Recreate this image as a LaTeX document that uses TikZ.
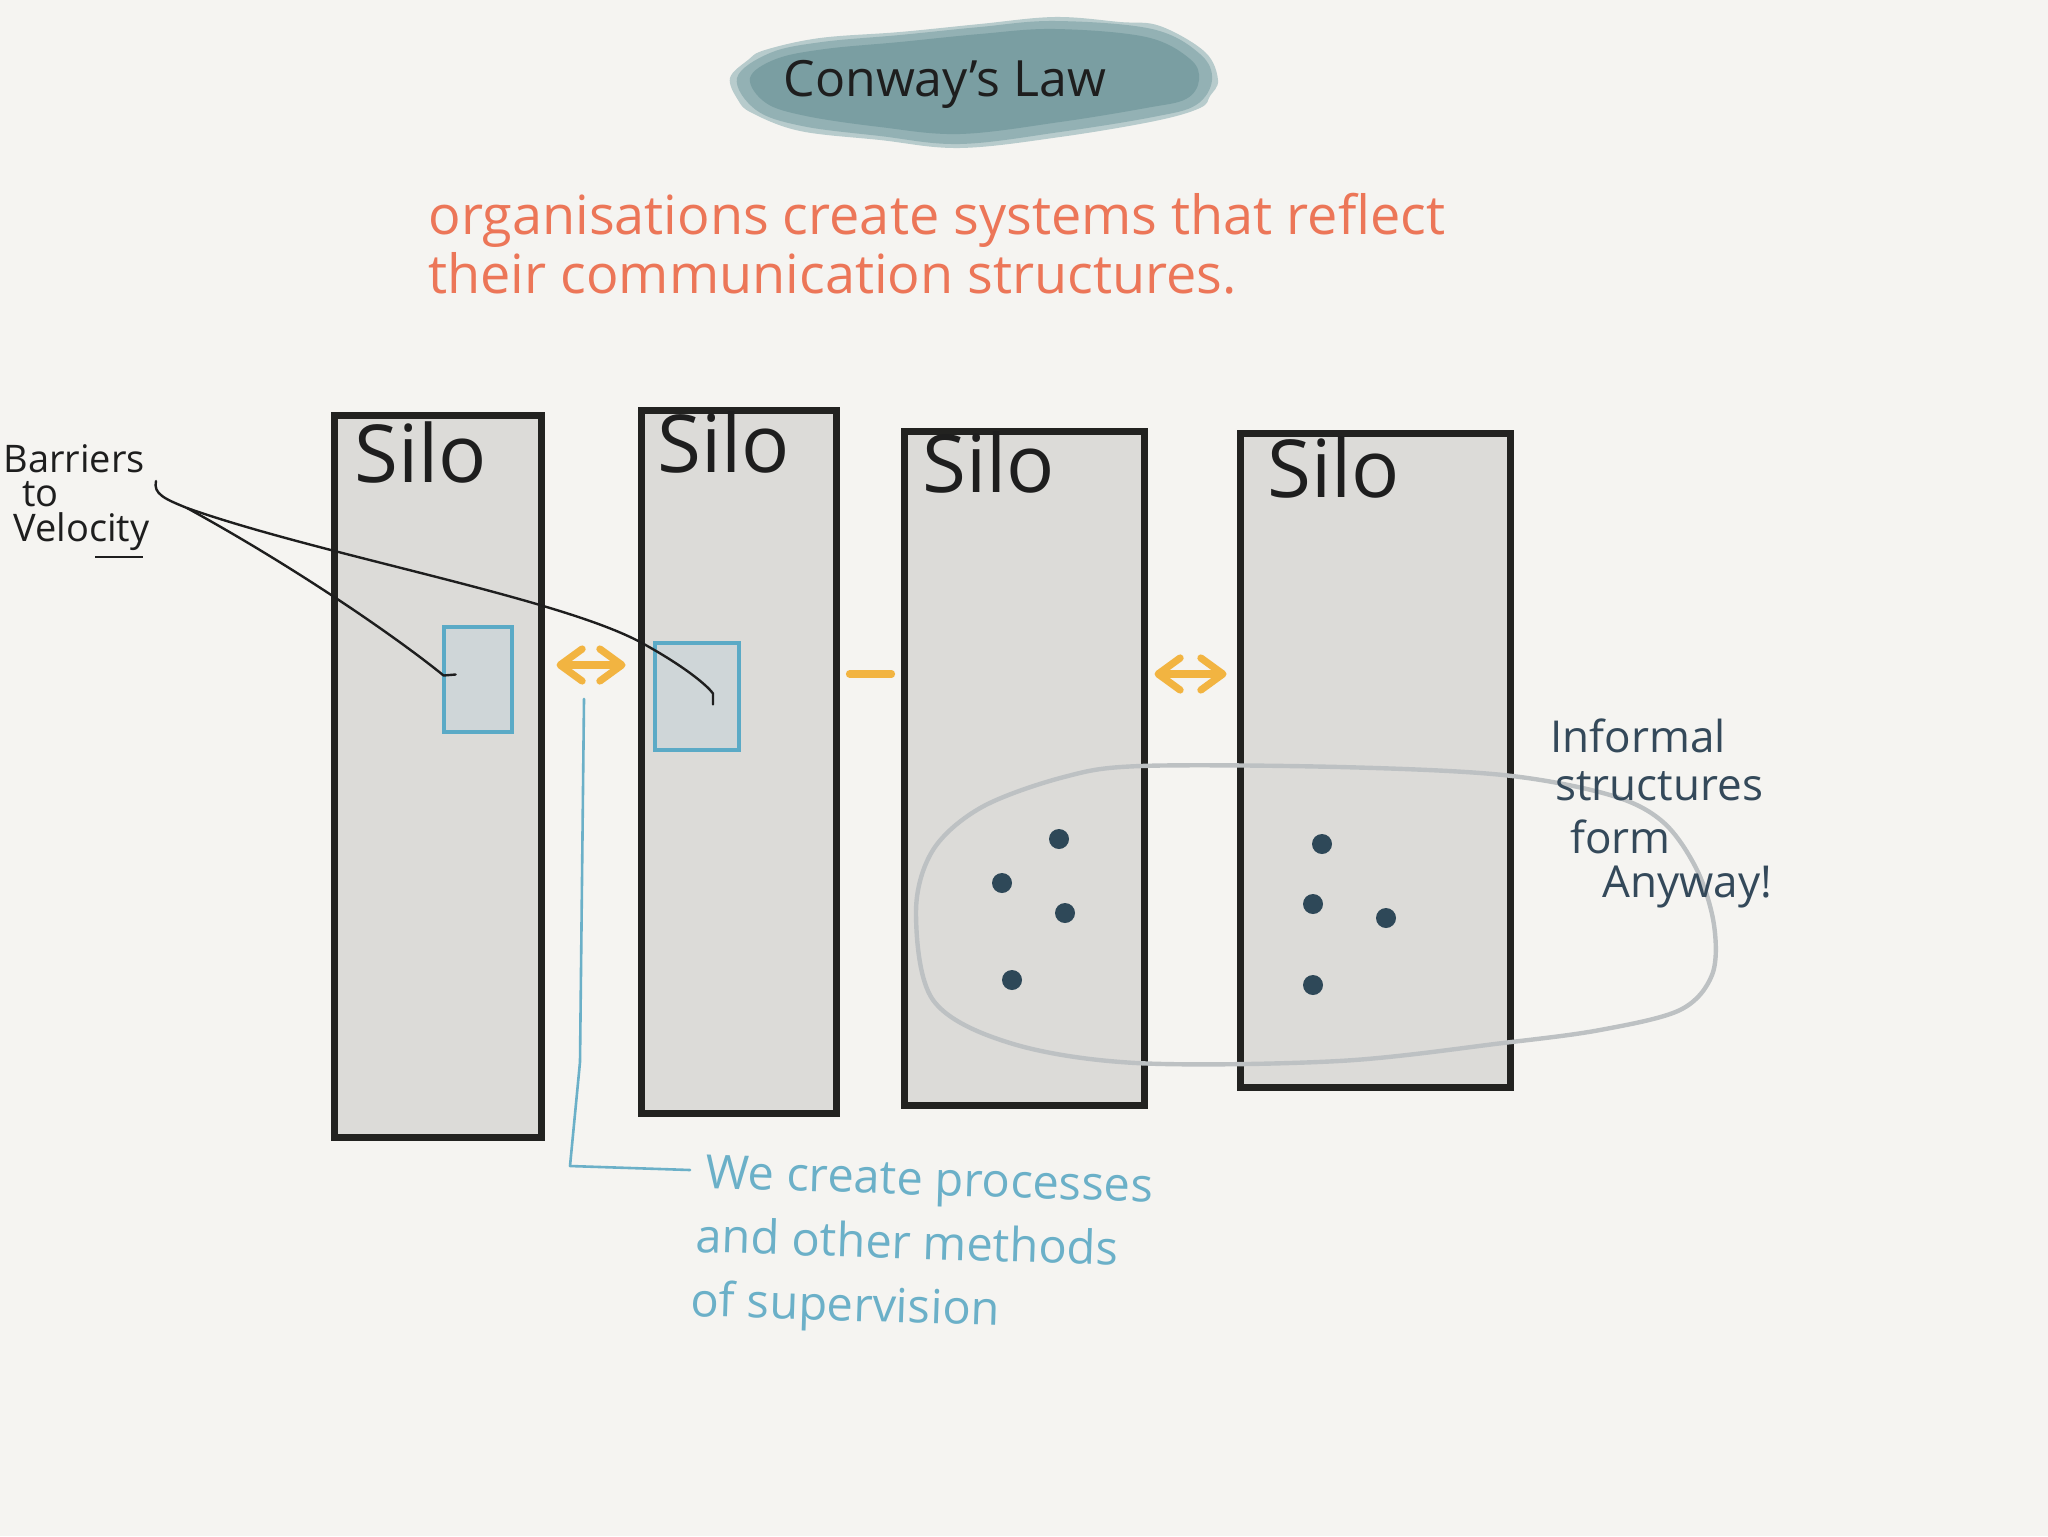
\documentclass[tikz,border=0pt]{standalone}
\usepackage{fontspec}
\setmainfont{Open Sans}
\usetikzlibrary{arrows.meta,calc}
\definecolor{bg}{HTML}{F5F4F1}
\definecolor{silofill}{HTML}{DCDBD8}
\definecolor{siloline}{HTML}{222220}
\definecolor{boxblue}{HTML}{5BAAC6}
\definecolor{boxfill}{HTML}{CFD6D8}
\definecolor{arrowor}{HTML}{F2B441}
\definecolor{subor}{HTML}{EC7658}
\definecolor{noteblue}{HTML}{6BB0C8}
\definecolor{slate}{HTML}{34495A}
\definecolor{dotcol}{HTML}{2E4858}
\definecolor{titlebg}{HTML}{7A9EA2}
\definecolor{titlemid}{HTML}{93B1B4}
\definecolor{titlesoft}{HTML}{B7CBCC}
\definecolor{ellgray}{HTML}{BDC1C3}
\definecolor{ink}{HTML}{1E1E1E}
\tikzset{
  silo/.style={draw=siloline, fill=silofill, line width=3.5pt, inner sep=0pt, rectangle},
  silolabel/.style={anchor=base west, inner sep=0pt, text=ink, font=\fontsize{40pt}{44pt}\selectfont},
  bluebox/.style={draw=boxblue, fill=boxfill, line width=2.4pt, inner sep=0pt, rectangle},
  orarrow/.style={draw=arrowor, line width=3.6pt, line cap=round,
     {Straight Barb[length=11pt,width=16pt,round]}-{Straight Barb[length=11pt,width=16pt,round]}},
  orline/.style={draw=arrowor, line width=3.6pt, line cap=round},
  blackcurve/.style={draw=ink, line width=1.2pt, line cap=round, line join=round},
  noteline/.style={draw=noteblue, line width=1.3pt, line cap=round, line join=round},
  subtext/.style={anchor=base west, inner sep=0pt, text=subor, font=\fontsize{27pt}{30pt}\selectfont},
  notetext/.style={anchor=base west, inner sep=0pt, text=noteblue, font=\fontsize{23.5pt}{27pt}\selectfont},
  infotext/.style={anchor=base west, inner sep=0pt, text=slate, font=\fontsize{22pt}{26pt}\selectfont},
  bartext/.style={anchor=base west, inner sep=0pt, text=ink, font=\fontsize{19pt}{22pt}\selectfont},
  dot/.style={circle, fill=dotcol, minimum size=10pt, inner sep=0pt},
  blob/.style={ellgray, line width=2.2pt}
}
\begin{document}
\begin{tikzpicture}[x=0.5pt,y=-0.5pt]
\useasboundingbox (0,0) rectangle (2048,1536);
\fill[bg] (0,0) rectangle (2048,1536);

% title blob (soft edged wash)
\fill[titlesoft] plot[smooth cycle, tension=0.6] coordinates {
 (730,78) (748,60) (765,50) (820,38) (900,32) (980,24) (1055,17) (1120,22) (1160,26) (1205,52) (1218,80)
 (1210,96) (1200,108) (1155,121) (1060,137) (960,148) (880,140) (800,131) (752,113) (738,100)};
\fill[titlemid] plot[smooth cycle, tension=0.6] coordinates {
 (737,78) (770,53) (822,42) (900,35) (980,27) (1055,21) (1152,29) (1200,54) (1212,80)
 (1196,105) (1153,117) (1060,132) (960,144) (880,136) (802,126) (756,110)};
\fill[titlebg] plot[smooth cycle, tension=0.6] coordinates {
 (750,78) (776,59) (825,49) (900,42) (980,34) (1055,29) (1146,37) (1190,59) (1199,80)
 (1186,99) (1146,108) (1060,122) (960,134) (880,127) (806,116) (766,103)};
\node[anchor=base, inner sep=0pt, text=ink, font=\fontsize{25pt}{28pt}\selectfont] (title) at (945,97) {Conway's Law};

% subtitle
\node[subtext] (sub1) at (428,234) {organisations create systems that reflect};
\node[subtext] (sub2) at (428,293) {their communication structures.};

% silos
\node[silo, minimum width=103.5pt, minimum height=361pt] (s1) at (437.5,776) {};
\node[silo, minimum width=97.5pt, minimum height=351.5pt] (s2) at (738.5,761.5) {};
\node[silo, minimum width=120pt, minimum height=337pt] (s3) at (1024,768) {};
\node[silo, minimum width=135pt, minimum height=327pt] (s4) at (1375,760) {};
\node[silolabel] (l1) at (354,482) {Silo};
\node[silolabel] (l2) at (657,472) {Silo};
\node[silolabel] (l3) at (922,492) {Silo};
\node[silolabel] (l4) at (1267,497) {Silo};

% blue boxes
\node[bluebox, minimum width=34pt, minimum height=52.5pt] (b1) at (478,679.5) {};
\node[bluebox, minimum width=42pt, minimum height=53.5pt] (b2) at (697,696.5) {};

% orange arrows
\coordinate (m1) at (0,665);
\coordinate (m2) at (0,674);
\draw[orarrow] ($(s1.east |- m1)+(12,0)$) -- ($(s2.west |- m1)+(-12,0)$);
\draw[orline] ($(s2.east |- m2)+(10,0)$) -- ($(s3.west |- m2)+(-9,0)$);
\draw[orarrow] ($(s3.east |- m2)+(7,0)$) -- ($(s4.west |- m2)+(-10,0)$);

% informal structures ring
\draw[blob] plot[smooth cycle, tension=0.55] coordinates {
 (916,912) (933,850) (982,807) (1064,777) (1141,766) (1339,767) (1503,775) (1610,795)
 (1663,822) (1697,870) (1714,925) (1712,975) (1680,1010) (1600,1030) (1503,1043)
 (1339,1061) (1136,1063) (1010,1043) (933,1000)};

% dots
\node[dot] (d1) at (1059,839) {};
\node[dot] (d2) at (1002,883) {};
\node[dot] (d3) at (1065,913) {};
\node[dot] (d4) at (1012,980) {};
\node[dot] (d5) at (1322,844) {};
\node[dot] (d6) at (1313,904) {};
\node[dot] (d7) at (1386,918) {};
\node[dot] (d8) at (1313,985) {};

% barriers label
\node[bartext] (bar1) at (3,472) {Barriers};
\node[bartext] (bar2) at (22,506) {to};
\node[bartext] (bar3) at (13,541) {Velocity};
\draw[ink, line width=1.2pt] (95,557) -- (143,557);

% connectors from label to boxes
\coordinate (bvdot) at (156,481);
\coordinate (bvsplit) at (187,508);
\draw[blackcurve] (bvdot) .. controls (153,494) and (165,499) .. (bvsplit)
   .. controls (300,570) and (400,640) .. ($(b1.west)+(2,-4)$) -- ($(b1.west)+(14,-5)$);
\draw[blackcurve] (bvsplit) .. controls (320,555) and (560,598) .. (642,643)
   .. controls (682,665) and (706,684) .. ($(b2.center)+(16,-3)$) -- ($(b2.center)+(16,8)$);

% note connector
\coordinate (notetop) at (584,699);
\coordinate (notebend1) at (580,1062);
\coordinate (notecorner) at (570,1166);
\coordinate (noteend) at (690,1170);
\draw[noteline] (notetop) -- (notebend1) -- (notecorner) -- (noteend);
\node[notetext, rotate=-1.8] (n1) at (705,1188) {We create processes};
\node[notetext, rotate=-1.8] (n2) at (695,1252) {and other methods};
\node[notetext, rotate=-1.8] (n3) at (690,1316) {of supervision};

% informal label
\node[infotext] (i1) at (1550,752) {Informal};
\node[infotext] (i2) at (1555,800) {structures};
\node[infotext] (i3) at (1570,853) {form};
\node[infotext] (i4) at (1602,897) {Anyway!};
\end{tikzpicture}
\end{document}
